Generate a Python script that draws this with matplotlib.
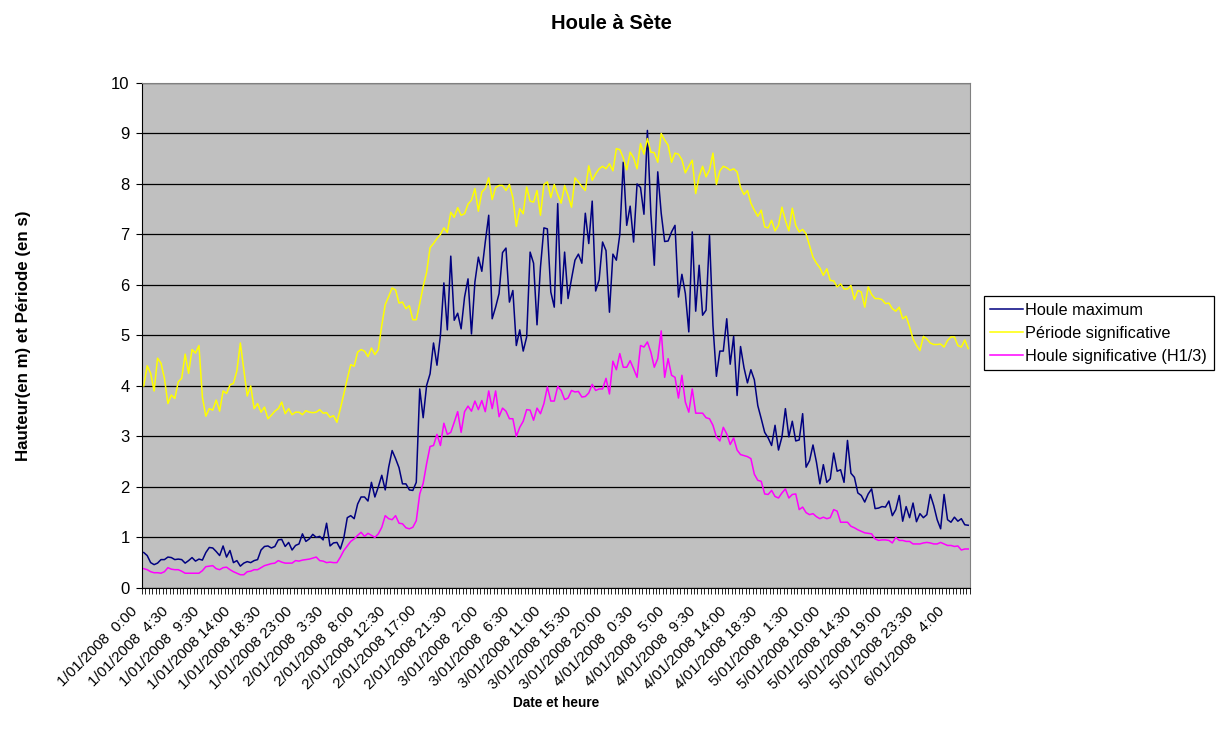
import numpy as np
import matplotlib.pyplot as plt
from matplotlib.transforms import ScaledTranslation

plt.rcParams['font.family'] = ['Liberation Sans', 'DejaVu Sans']

# Relevés toutes les 30 min (quelques trous), du 1/01/2008 0:00 au 6/01/2008 ~6:30
houle_max = [
    0.7, 0.64, 0.5, 0.46, 0.49, 0.56, 0.56, 0.61, 0.6, 0.56,
    0.57, 0.56, 0.49, 0.54, 0.6, 0.53, 0.57, 0.55, 0.7, 0.8,
    0.79, 0.72, 0.64, 0.83, 0.61, 0.74, 0.5, 0.54, 0.43, 0.49,
    0.52, 0.5, 0.54, 0.56, 0.75, 0.82,
    0.83, 0.79, 0.82, 0.95, 0.96, 0.82, 0.9, 0.75, 0.84, 0.87,
    1.07, 0.92, 0.97, 1.06, 1.0, 1.02, 0.95, 1.28, 0.83, 0.89,
    0.9, 0.77, 0.99, 1.39, 1.43, 1.37, 1.66, 1.8, 1.8, 1.72,
    2.09, 1.8, 2.0, 2.23, 1.94, 2.39, 2.72, 2.56, 2.38, 2.06,
    2.06, 1.94,
    1.93, 2.09, 3.94, 3.37, 4.01, 4.24, 4.85, 4.41, 5.0, 6.04,
    5.11, 6.57, 5.3, 5.44, 5.13, 5.76, 6.12, 5.03, 6.06, 6.55,
    6.27, 6.85, 7.38, 5.33, 5.56, 5.83, 6.64, 6.73, 5.66, 5.89,
    4.8, 5.11, 4.69, 4.97, 6.65, 6.43, 5.21, 6.35, 7.13, 7.11,
    5.86, 5.56,
    7.61, 5.63, 6.65, 5.73, 6.12, 6.49, 6.61, 6.43, 7.42, 6.82,
    7.66, 5.88, 6.1, 6.85, 6.68, 5.46, 6.61, 6.49, 7.0, 8.43,
    7.18, 7.56, 6.85, 8.0, 7.93, 7.4, 9.06, 7.41, 6.39, 8.24,
    7.42, 6.86, 6.87, 7.05, 7.18, 5.76, 6.21, 5.83, 5.07, 7.05,
    5.48, 6.39,
    5.4, 5.5, 6.98, 5.2, 4.19, 4.69, 4.69, 5.33, 4.43, 4.98,
    3.81, 4.78, 4.36, 4.06, 4.32, 4.12, 3.61, 3.35, 3.08, 2.97,
    2.82, 3.22, 2.73, 2.99, 3.55, 2.99, 3.3, 2.91, 2.93, 3.45,
    2.39, 2.52, 2.83, 2.49, 2.06, 2.44, 2.09, 2.16, 2.67, 2.31,
    2.34, 2.09,
    2.92, 2.27, 2.19, 1.88, 1.83, 1.7, 1.86, 1.96, 1.57, 1.58,
    1.61, 1.6, 1.72, 1.43, 1.55, 1.83, 1.32, 1.61, 1.39, 1.68,
    1.31, 1.47, 1.39, 1.45, 1.85, 1.63, 1.35, 1.17, 1.85, 1.35,
    1.3, 1.4, 1.32, 1.37, 1.25, 1.24,
]

periode = [
    4.0, 4.4, 4.25, 3.9, 4.55, 4.45, 4.15, 3.65, 3.82, 3.75,
    4.08, 4.15, 4.63, 4.25, 4.72, 4.65, 4.8, 3.78, 3.4, 3.55,
    3.52, 3.72, 3.5, 3.9, 3.85, 4.02, 4.05, 4.3, 4.85, 4.32,
    3.8, 4.0, 3.55, 3.65, 3.48, 3.58,
    3.35, 3.42, 3.5, 3.55, 3.68, 3.45, 3.55, 3.43, 3.48, 3.48,
    3.43, 3.51, 3.48, 3.47, 3.48, 3.53, 3.46, 3.47, 3.38, 3.41,
    3.28, 3.55, 3.84, 4.14, 4.42, 4.39, 4.67, 4.72, 4.69, 4.58,
    4.75, 4.62, 4.72, 5.2, 5.61, 5.77, 5.94, 5.9, 5.64, 5.66,
    5.53, 5.59,
    5.31, 5.31, 5.63, 5.97, 6.25, 6.74, 6.82, 6.92, 7.0, 7.13,
    7.04, 7.44, 7.34, 7.53, 7.38, 7.41, 7.6, 7.68, 7.91, 7.46,
    7.84, 7.91, 8.12, 7.69, 7.93, 7.97, 7.97, 7.87, 7.99, 7.73,
    7.16, 7.51, 7.41, 7.94, 7.66, 7.64, 7.87, 7.38, 7.99, 8.04,
    7.73, 7.99,
    7.79, 7.62, 7.97, 7.77, 7.54, 8.12, 8.04, 7.95, 7.87, 8.36,
    8.07, 8.2, 8.3, 8.35, 8.3, 8.4, 8.26, 8.7, 8.68, 8.52,
    8.28, 8.63, 8.52, 8.3, 8.8, 8.59, 8.9, 8.63, 8.62, 8.43,
    9.0, 8.87, 8.77, 8.43, 8.61, 8.59, 8.48, 8.22, 8.35, 8.47,
    7.81, 8.15,
    8.35, 8.14, 8.28, 8.61, 7.99, 8.26, 8.35, 8.32, 8.27, 8.3,
    8.24, 7.93, 7.79, 7.87, 7.62, 7.48, 7.36, 7.48, 7.15, 7.13,
    7.28, 7.07, 7.18, 7.54, 7.28, 7.07, 7.52, 7.18, 7.05, 7.1,
    7.01, 6.78, 6.55, 6.43, 6.34, 6.19, 6.32, 6.09, 6.08, 5.96,
    6.02, 5.92,
    5.92, 5.99, 5.71, 5.89, 5.86, 5.56, 5.96, 5.81, 5.73, 5.73,
    5.71, 5.63, 5.64, 5.53, 5.48, 5.56, 5.33, 5.38, 5.17, 4.93,
    4.8, 4.7, 4.98, 4.93, 4.85, 4.82, 4.82, 4.83, 4.77, 4.9,
    4.97, 4.97, 4.8, 4.77, 4.91, 4.74,
]

houle_sig = [
    0.38, 0.36, 0.32, 0.3, 0.3, 0.29, 0.32, 0.4, 0.37, 0.36,
    0.36, 0.33, 0.29, 0.29, 0.29, 0.29, 0.29, 0.34, 0.42, 0.43,
    0.44, 0.38, 0.36, 0.4, 0.41, 0.36, 0.32, 0.29, 0.26, 0.26,
    0.32, 0.33, 0.36, 0.36, 0.4, 0.44,
    0.46, 0.48, 0.49, 0.54, 0.51, 0.49, 0.49, 0.49, 0.54, 0.53,
    0.55, 0.56, 0.57, 0.59, 0.61, 0.54, 0.53, 0.5, 0.51, 0.5,
    0.5, 0.61, 0.74, 0.83, 0.92, 0.97, 1.04, 1.1, 1.02, 1.08,
    1.04, 1.0, 1.07, 1.2, 1.43, 1.37, 1.35, 1.43, 1.28, 1.27,
    1.19, 1.17,
    1.2, 1.33, 1.86, 2.07, 2.46, 2.8, 2.82, 3.04, 2.82, 3.26,
    3.04, 3.08, 3.28, 3.49, 3.08, 3.49, 3.6, 3.5, 3.7, 3.53,
    3.71, 3.49, 3.9, 3.55, 3.9, 3.39, 3.56, 3.5, 3.35, 3.35,
    3.0, 3.18, 3.3, 3.53, 3.52, 3.32, 3.56, 3.45, 3.65, 3.98,
    3.7, 3.7,
    3.99, 3.91, 3.73, 3.76, 3.91, 3.88, 3.89, 3.78, 3.79, 3.86,
    4.03, 3.91, 3.94, 3.94, 4.15, 3.84, 4.49, 4.32, 4.64, 4.37,
    4.37, 4.5, 4.34, 4.17, 4.8, 4.77, 4.87, 4.67, 4.37, 4.54,
    5.09, 4.17, 4.54, 4.21, 4.17, 3.76, 4.21, 3.68, 3.48, 3.94,
    3.46, 3.46,
    3.46, 3.37, 3.35, 3.22, 2.99, 2.91, 3.18, 3.05, 2.84, 2.97,
    2.73, 2.64, 2.62, 2.6, 2.56, 2.25, 2.13, 2.11, 1.86, 1.85,
    1.93, 1.81, 1.78, 1.88, 1.96, 1.78, 1.85, 1.86, 1.55, 1.6,
    1.49, 1.45, 1.47, 1.41, 1.37, 1.4, 1.37, 1.39, 1.55, 1.52,
    1.3, 1.3,
    1.3, 1.22, 1.19, 1.15, 1.12, 1.09, 1.08, 1.07, 0.97, 0.94,
    0.95, 0.95, 0.94, 0.89, 1.0, 0.94, 0.94, 0.92, 0.92, 0.87,
    0.87, 0.87, 0.89, 0.9, 0.89, 0.87, 0.87, 0.9, 0.87, 0.84,
    0.84, 0.82, 0.83, 0.75, 0.77, 0.77,
]

# une étiquette toutes les 9 mesures
date_labels = [
    "1/01/2008  0:00", "1/01/2008  4:30", "1/01/2008  9:30", "1/01/2008 14:00",
    "1/01/2008 18:30", "1/01/2008 23:00", "2/01/2008  3:30", "2/01/2008  8:00",
    "2/01/2008 12:30", "2/01/2008 17:00", "2/01/2008 21:30", "3/01/2008  2:00",
    "3/01/2008  6:30", "3/01/2008 11:00", "3/01/2008 15:30", "3/01/2008 20:00",
    "4/01/2008  0:30", "4/01/2008  5:00", "4/01/2008  9:30", "4/01/2008 14:00",
    "4/01/2008 18:30", "5/01/2008  1:30", "5/01/2008 10:00", "5/01/2008 14:30",
    "5/01/2008 19:00", "5/01/2008 23:30", "6/01/2008  4:00",
]
label_step = 9

n = len(houle_max)
x = np.arange(n)

fig = plt.figure(figsize=(12.17, 7.33), dpi=100)
ax = fig.add_axes([0.1167, 0.198, 0.6803, 0.6888])
ax.set_facecolor('#C0C0C0')

ax.plot(x, houle_max, color='#000080', lw=1.1, label='Houle maximum')
ax.plot(x, periode, color='#FFFF00', lw=1.1, label='Période significative')
ax.plot(x, houle_sig, color='#FF00FF', lw=1.1, label='Houle significative (H1/3)')

ax.set_xlim(-0.5, n - 0.5)
ax.set_ylim(0, 10)
ax.set_yticks(range(0, 11))
ax.yaxis.grid(True, color='black', lw=0.9)
ax.set_axisbelow(True)
ax.tick_params(axis='y', labelsize=12, length=4, width=0.8, pad=5, direction='out')

ax.set_xticks(np.arange(0, n, label_step)[:len(date_labels)])
ax.set_xticklabels(date_labels, rotation=45, ha='right', va='center',
                   rotation_mode='anchor', fontsize=11)
ax.set_xticks(np.arange(-0.5, n, 1), minor=True)
ax.tick_params(axis='x', which='major', length=0, pad=15)
ax.tick_params(axis='x', which='minor', length=4, width=0.6, direction='out')
shift = ScaledTranslation(-0.09, 0, fig.dpi_scale_trans)
for lab in ax.get_xticklabels():
    lab.set_transform(lab.get_transform() + shift)

for side in ('top', 'right'):
    ax.spines[side].set_color('#808080')
for side in ('left', 'bottom'):
    ax.spines[side].set_color('black')

fig.text(0.5025, 0.968, 'Houle à Sète', ha='center', va='center',
         fontsize=14.5, fontweight='bold')
fig.text(0.4568, 0.0415, 'Date et heure', ha='center', va='center',
         fontsize=9.8, fontweight='bold')
fig.text(0.019, 0.542, 'Hauteur(en m) et Période (en s)', ha='center', va='center',
         rotation=90, fontsize=12.2, fontweight='bold')

leg = fig.legend(loc='upper left', bbox_to_anchor=(0.8085, 0.596), fontsize=11.7,
                 frameon=True, fancybox=False, edgecolor='black', framealpha=1,
                 handlelength=2.0, handletextpad=0.15, labelspacing=0.5,
                 borderpad=0.4, borderaxespad=0)
leg.get_frame().set_linewidth(0.9)

fig.savefig('out.png', dpi=100)
